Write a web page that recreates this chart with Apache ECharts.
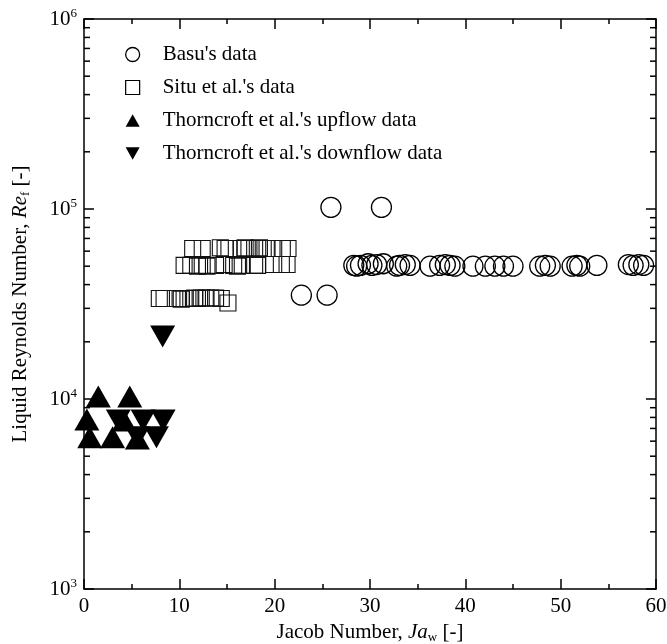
<!DOCTYPE html>
<html>
<head>
<meta charset="utf-8">
<script src="https://cdn.jsdelivr.net/npm/echarts@6/dist/echarts.min.js"></script>
<style>
  html, body { margin: 0; padding: 0; background: #fff; }
  #chart { width: 667px; height: 644px; }
</style>
</head>
<body>
<div id="chart"></div>
<script>
// Basu's data (Ja_w, Re_f)
const basuData = [
  [25.9, 1.02e5], [31.2, 1.02e5],
  [22.8, 3.52e4], [25.5, 3.52e4],
  [28.3, 5.05e4], [28.6, 5.0e4], [29.0, 5.05e4], [29.8, 5.15e4], [30.2, 5.05e4],
  [30.7, 5.1e4], [31.4, 5.15e4], [32.8, 5.0e4], [33.1, 5.05e4], [33.7, 5.1e4],
  [34.2, 5.05e4], [36.3, 5.0e4], [37.3, 5.05e4], [37.9, 5.1e4], [38.4, 5.05e4],
  [38.9, 5.0e4], [40.8, 5.0e4], [42.1, 5.0e4], [43.1, 5.0e4], [44.0, 5.0e4],
  [45.0, 5.0e4], [47.8, 5.0e4], [48.4, 5.05e4], [48.9, 5.0e4], [51.2, 5.0e4],
  [51.7, 5.05e4], [52.0, 5.0e4], [53.8, 5.05e4], [57.1, 5.1e4], [57.6, 5.05e4],
  [58.2, 5.1e4], [58.7, 5.05e4]
];

// Situ et al.'s data
const situData = [
  [11.4, 6.2e4], [12.4, 6.2e4], [14.3, 6.25e4], [14.8, 6.2e4], [15.2, 6.2e4],
  [16.5, 6.2e4], [16.9, 6.25e4], [17.3, 6.2e4], [17.9, 6.2e4], [18.4, 6.25e4],
  [18.8, 6.2e4], [19.2, 6.2e4], [19.9, 6.2e4], [20.8, 6.2e4], [21.4, 6.2e4],
  [10.5, 5.05e4], [11.2, 5.05e4], [11.9, 5.0e4], [12.4, 5.05e4], [12.9, 5.0e4],
  [13.8, 5.05e4], [14.7, 5.1e4], [15.7, 5.05e4], [16.1, 5.0e4], [16.6, 5.05e4],
  [17.9, 5.05e4], [18.2, 5.05e4], [19.9, 5.1e4], [20.7, 5.1e4], [21.3, 5.1e4],
  [7.9, 3.38e4], [8.4, 3.38e4], [9.8, 3.38e4], [10.2, 3.35e4], [10.5, 3.38e4],
  [10.9, 3.38e4], [11.2, 3.38e4], [11.6, 3.4e4], [11.9, 3.38e4], [12.3, 3.4e4],
  [12.8, 3.4e4], [13.3, 3.4e4], [13.8, 3.4e4], [14.4, 3.38e4], [15.1, 3.2e4]
];

// Thorncroft et al.'s upflow data
const upflowData = [
  [0.3, 7.8e3], [1.5, 1.03e4], [4.8, 1.03e4], [0.6, 6.3e3],
  [3.0, 6.3e3], [4.2, 7.7e3], [5.6, 6.2e3]
];

// Thorncroft et al.'s downflow data
const downflowData = [
  [3.6, 7.7e3], [6.2, 7.7e3], [8.3, 7.7e3], [5.6, 6.3e3], [7.6, 6.3e3], [8.25, 2.13e4]
];

const xTicks = [0, 10, 20, 30, 40, 50, 60];
const yDecades = [1e3, 1e4, 1e5, 1e6];
// log minor tick positions 2..9 in each decade
const yMinorTicks = [];
yDecades.slice(0, 3).forEach(d => {
  for (let k = 2; k <= 9; k++) yMinorTicks.push(d * k);
});

const serif = "'Liberation Serif', 'Times New Roman', serif";
const chart = echarts.init(document.getElementById('chart'), null, { renderer: 'canvas' });

const axisLine = { show: true, onZero: false, lineStyle: { color: '#000', width: 1.5 } };
const tickStyle = { color: '#000', width: 1.5 };
const legendText = { fontFamily: serif, fontSize: 21, color: '#000', padding: [0, 0, 0, 18] };
const titleRich = {
  n: { fontFamily: serif, fontSize: 21, color: '#000', lineHeight: 24 },
  i: { fontFamily: serif, fontSize: 21, fontStyle: 'italic', color: '#000', lineHeight: 24 },
  sub: { fontFamily: serif, fontSize: 13, color: '#000', verticalAlign: 'bottom' }
};

const option = {
  backgroundColor: '#fff',
  animation: false,
  textStyle: { fontFamily: serif, color: '#000' },
  grid: { left: 84, right: 11, top: 19, bottom: 55, containLabel: false, outerBoundsMode: 'none' },
  legend: {
    orient: 'vertical',
    left: 125,
    top: 44,
    itemWidth: 14,
    itemHeight: 14,
    itemGap: 12,
    padding: 0,
    selectedMode: false,
    textStyle: legendText,
    data: [
      { name: "Basu's data", icon: 'circle', itemStyle: { color: 'rgba(0,0,0,0)', borderColor: '#000', borderWidth: 1.3 } },
      { name: "Situ et al.'s data", icon: 'rect', itemStyle: { color: 'rgba(0,0,0,0)', borderColor: '#000', borderWidth: 1.2 } },
      { name: "Thorncroft et al.'s upflow data", icon: 'path://M1,0 L2,1.8 L0,1.8 Z', itemStyle: { color: '#000', borderWidth: 0 } },
      { name: "Thorncroft et al.'s downflow data", icon: 'path://M0,0 L2,0 L1,1.8 Z', itemStyle: { color: '#000', borderWidth: 0 } }
    ]
  },
  xAxis: [
    {
      type: 'value', min: 0, max: 60, interval: 10,
      name: '{n|Jacob Number, }{i|Ja}{sub|w}{n| [-]}',
      nameLocation: 'middle', nameGap: 31,
      nameTextStyle: { rich: titleRich },
      axisLine: axisLine,
      axisTick: { inside: true, length: 10, lineStyle: tickStyle },
      minorTick: { show: true, splitNumber: 2, length: 5, lineStyle: tickStyle },
      axisLabel: { margin: 7, fontFamily: serif, fontSize: 21, color: '#000',
        formatter: v => xTicks.includes(v) ? String(v) : '' },
      splitLine: { show: false }
    },
    {
      type: 'value', min: 0, max: 60, interval: 10, position: 'top',
      axisLine: axisLine,
      axisTick: { inside: true, length: 10, lineStyle: tickStyle },
      minorTick: { show: true, splitNumber: 2, length: 5, lineStyle: tickStyle },
      axisLabel: { show: false },
      splitLine: { show: false }
    }
  ],
  yAxis: [
    {
      type: 'log', logBase: 10, min: 1e3, max: 1e6,
      name: '{n|Liquid Reynolds Number, }{i|Re}{sub|f}{n| [-]}',
      nameLocation: 'middle', nameGap: 52, nameRotate: 90,
      nameTextStyle: { rich: titleRich },
      axisLine: axisLine,
      axisTick: { inside: true, length: 10, lineStyle: tickStyle },
      axisLabel: {
        margin: 7,
        formatter: v => '{b|10}{s|' + Math.round(Math.log10(v)) + '}',
        rich: {
          b: { fontFamily: serif, fontSize: 21, color: '#000', lineHeight: 24 },
          s: { fontFamily: serif, fontSize: 13, color: '#000', verticalAlign: 'top' }
        }
      },
      splitLine: { show: false }
    },
    {
      type: 'log', logBase: 10, min: 1e3, max: 1e6, position: 'right',
      axisLine: axisLine,
      axisTick: { inside: true, length: 10, lineStyle: tickStyle },
      axisLabel: { show: false },
      splitLine: { show: false }
    }
  ],
  series: [
    {
      // minor log ticks on left and right frame
      type: 'custom',
      silent: true,
      clip: false,
      data: yMinorTicks.map(v => [0, v]),
      renderItem: (params, api) => {
        const v = api.value(1);
        const l = api.coord([0, v]);
        const r = api.coord([60, v]);
        const st = { stroke: '#000', lineWidth: 1.5 };
        return {
          type: 'group',
          children: [
            { type: 'line', shape: { x1: l[0], y1: l[1], x2: l[0] + 6, y2: l[1] }, style: st },
            { type: 'line', shape: { x1: r[0], y1: r[1], x2: r[0] - 6, y2: r[1] }, style: st }
          ]
        };
      }
    },
    {
      name: "Basu's data",
      type: 'scatter',
      data: basuData,
      symbol: 'circle',
      symbolSize: 20,
      itemStyle: { color: 'rgba(0,0,0,0)', borderColor: '#000', borderWidth: 1.3, opacity: 1 }
    },
    {
      name: "Situ et al.'s data",
      type: 'scatter',
      data: situData,
      symbol: 'rect',
      symbolSize: 16,
      itemStyle: { color: 'rgba(0,0,0,0)', borderColor: '#111', borderWidth: 1.1, opacity: 1 }
    },
    {
      name: "Thorncroft et al.'s upflow data",
      type: 'scatter',
      data: upflowData,
      symbol: 'triangle',
      symbolSize: [25, 22],
      itemStyle: { color: '#000', opacity: 1 }
    },
    {
      name: "Thorncroft et al.'s downflow data",
      type: 'scatter',
      data: downflowData,
      symbol: 'triangle',
      symbolRotate: 180,
      symbolSize: [25, 22],
      itemStyle: { color: '#000', opacity: 1 }
    }
  ]
};

chart.setOption(option);
window.addEventListener('resize', () => chart.resize());
</script>
</body>
</html>
